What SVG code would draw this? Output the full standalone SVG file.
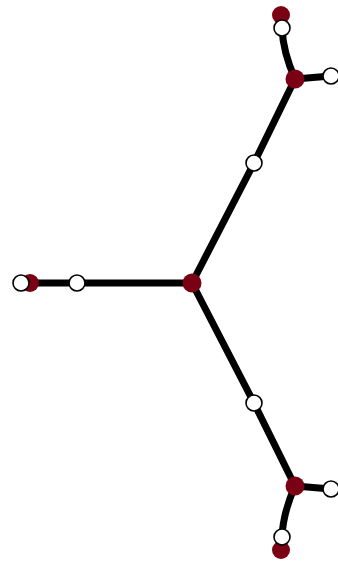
<svg xmlns="http://www.w3.org/2000/svg" width="338" height="564" viewBox="0 0 338 564">
<style>
.e{stroke:#000;stroke-width:7;fill:none;stroke-linecap:butt}
.r{fill:#7a0014}
.w{fill:#fff;stroke:#000;stroke-width:1.6}
</style>
<rect width="338" height="564" fill="#fff"/>
<g id="edges">
<path class="e" d="M192 283 L254 163 L295 79"/>
<path class="e" d="M295 79 Q283 52 282 28"/>
<path class="e" d="M295 79 L331 76"/>
<path class="e" d="M192 283 L254 403 L295 486"/>
<path class="e" d="M295 486 Q283 513 282 537"/>
<path class="e" d="M295 486 L331 489"/>
<path class="e" d="M192 283 L29 283"/>
</g>
<g id="n_top_red_end"><circle class="r" cx="281" cy="15" r="9"/></g>
<g id="n_top_white_end"><circle class="w" cx="282" cy="28" r="8"/></g>
<g id="n_top_red"><circle class="r" cx="295" cy="79" r="9.5"/></g>
<g id="n_top_white_right"><circle class="w" cx="331" cy="76" r="8"/></g>
<g id="n_top_mid"><circle class="w" cx="254" cy="163" r="8"/></g>
<g id="n_center"><circle class="r" cx="192" cy="283" r="9.5"/></g>
<g id="n_left_red"><circle class="r" cx="30" cy="283" r="9"/></g>
<g id="n_left_white_end"><circle class="w" cx="21" cy="283" r="8"/></g>
<g id="n_left_mid"><circle class="w" cx="77" cy="283" r="8"/></g>
<g id="n_bot_mid"><circle class="w" cx="254" cy="403" r="8"/></g>
<g id="n_bot_red"><circle class="r" cx="295" cy="486" r="9.5"/></g>
<g id="n_bot_white_right"><circle class="w" cx="331" cy="489" r="8"/></g>
<g id="n_bot_red_end"><circle class="r" cx="281" cy="550" r="9"/></g>
<g id="n_bot_white_end"><circle class="w" cx="282" cy="537" r="8"/></g>
</svg>
